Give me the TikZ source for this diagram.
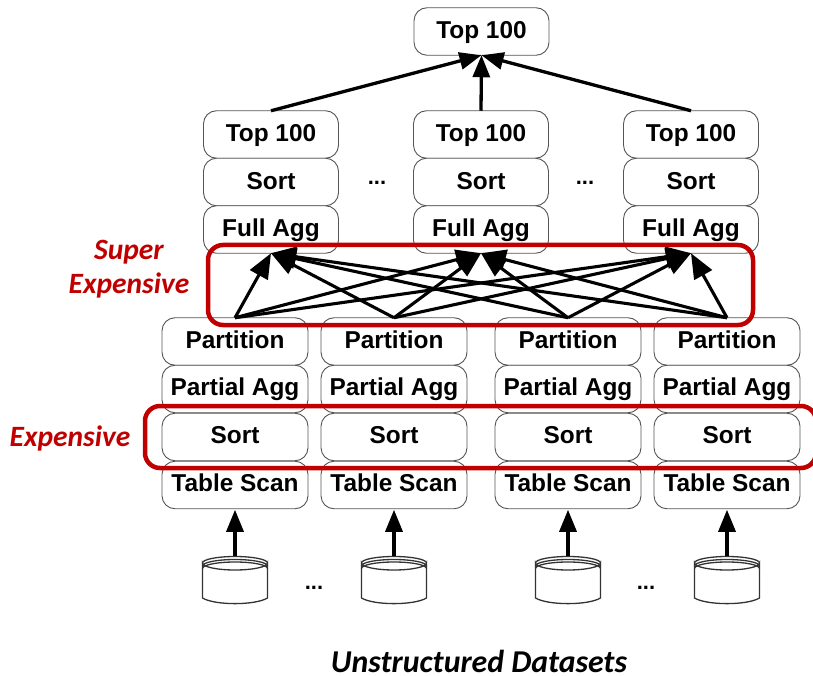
\documentclass[tikz,border=0pt]{standalone}
\usepackage{fontspec}
\setmainfont{Liberation Sans}
\newfontfamily\redfont{Carlito}
\usetikzlibrary{arrows.meta}
\definecolor{boxgray}{HTML}{555555}
\definecolor{darkred}{HTML}{C00000}
\tikzset{
  opbox/.style={draw=boxgray,line width=0.9pt,rounded corners=13pt,fill=white,inner sep=0pt,outer sep=0pt,
    minimum height=47.5pt,text height=17.5pt,font=\fontsize{24.4}{28}\selectfont\bfseries},
  upbox/.style={opbox,minimum width=135pt,text depth=3pt},
  lowbox/.style={opbox,minimum width=146pt,text depth=4pt},
  flow/.style={line width=3.3pt,-{Triangle[length=22pt,width=17pt]},black},
  fan/.style={line width=3.1pt,-{Triangle[length=25pt,width=20pt]},black},
  redframe/.style={draw=darkred,line width=4.5pt,rounded corners=15pt},
  redlabel/.style={text=darkred,font=\redfont\fontsize{29.5}{34}\selectfont\bfseries\itshape,align=center,inner sep=0pt},
  dots/.style={font=\fontsize{22}{24}\selectfont\bfseries,inner sep=0pt},
  dbnode/.style={minimum width=65pt,minimum height=48pt,inner sep=0pt,outer sep=0pt},
  dbline/.style={draw=black!80,line width=1.3pt,fill=white}
}
\begin{document}
\begin{tikzpicture}[x=1pt,y=-1pt]
\useasboundingbox (0,0) rectangle (813,676);
% top
\node[upbox] (top) at (481.5,31.5) {Top 100};
% three upper stacks
\foreach \n/\x in {a/271,b/481,c/691}{
  \node[upbox] (top\n) at (\x,134.5) {Top 100};
  \node[upbox] (sort\n) at (\x,182) {Sort};
  \node[upbox] (agg\n) at (\x,229.5) {Full Agg};
}
% four lower stacks
\foreach \n/\x in {p/235,q/394,r/568,s/727}{
  \node[lowbox] (part\n) at (\x,341.5) {Partition};
  \node[lowbox] (pagg\n) at (\x,389) {Partial Agg};
  \node[lowbox] (lsort\n) at (\x,437) {Sort};
  \node[lowbox] (scan\n) at (\x,485) {Table Scan};
  \node[dbnode] (db\n) at (\x,580) {};
  \draw[dbline,shift={(db\n.center)}]
    (-32.5,-17) arc[start angle=180,end angle=0,x radius=32.5,y radius=7]
    -- (32.5,18) .. controls (20,25.5) and (-20,25.5) .. (-32.5,18) -- cycle;
  \draw[dbline,fill=none,shift={(db\n.center)}]
    (-32.5,-17) arc[start angle=180,end angle=360,x radius=32.5,y radius=6.5]
    (-32.5,-14) arc[start angle=180,end angle=360,x radius=32.5,y radius=6.5]
    (-32.5,-11.5) arc[start angle=180,end angle=360,x radius=32.5,y radius=6.5];
  \draw[flow] (db\n.north) -- ([yshift=-1pt]scan\n.south);
}
% arrows
\foreach \n in {a,b,c} \draw[flow] (top\n.north) -- (top.south);
\foreach \s in {p,q,r,s}
  \foreach \t in {a,b,c}
    \draw[fan] (part\s.north) -- (agg\t.south);
% dots
\node[dots] (d1) at (377,183) {...};
\node[dots] (d2) at (585,183) {...};
\node[dots] (d3) at (314,588) {...};
\node[dots] (d4) at (646,588) {...};
% red frames
\draw[redframe] (208,245) rectangle (753,325);
\begin{scope}
\clip (0,0) rectangle (813,676);
\draw[redframe] (145,406) rectangle (816,468);
\end{scope}
% labels
\node[redlabel] (lsuper) at (129,269) {Super\\Expensive};
\node[redlabel] (lexp) at (70,438) {Expensive};
\node[redlabel,text=black,font=\redfont\fontsize{31.8}{36}\selectfont\bfseries\itshape] (ldata) at (479,661) {Unstructured Datasets};
\end{tikzpicture}
\end{document}
